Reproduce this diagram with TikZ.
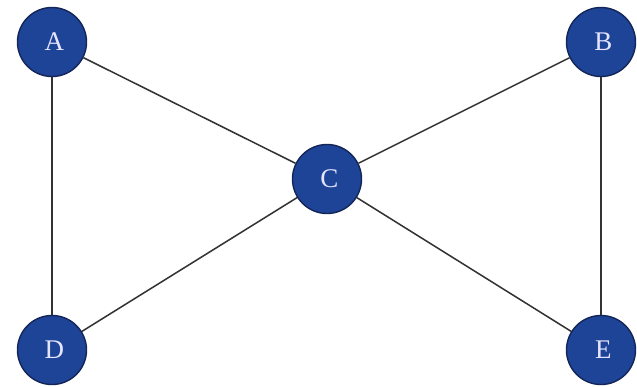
\documentclass[tikz,border=0pt]{standalone}
\usepackage{fontspec}
\setmainfont{Liberation Serif}
\usetikzlibrary{positioning}
\definecolor{vertexblue}{RGB}{30,68,152}
\definecolor{vertexrim}{RGB}{20,38,88}
\tikzset{
  vertex/.style={circle,fill=vertexblue,draw=vertexrim,line width=1.2pt,minimum size=2.07cm,inner sep=0pt,text=white!90!blue,font=\fontsize{23}{23}\selectfont},
  edge/.style={line width=1.3pt,draw=black!80}
}

\begin{document}
\begin{tikzpicture}[x=0.03cm,y=-0.03cm]
  \useasboundingbox (0,0) rectangle (637,386);
  \foreach \name/\x/\y in {A/52/42,B/601/42,C/327/179,D/52/350,E/601/350}{
    \node[vertex] (\name) at (\x,\y) {\kern4pt\name};
  }
  \foreach \u/\v in {A/C,A/D,B/C,B/E,C/D,C/E}{
    \draw[edge] (\u) -- (\v);
  }
\end{tikzpicture}
\end{document}
